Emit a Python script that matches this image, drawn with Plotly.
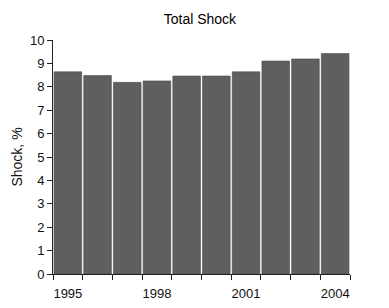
import plotly.graph_objects as go

years = [1995, 1996, 1997, 1998, 1999, 2000, 2001, 2002, 2003, 2004]
shock = [8.64, 8.48, 8.19, 8.25, 8.46, 8.46, 8.64, 9.10, 9.19, 9.42]
label_years = [1995, 1998, 2001, 2004]
y_ticks = list(range(0, 11))

fig = go.Figure(go.Bar(
    x=years, y=shock,
    marker=dict(color="#5f5f61", line=dict(color="#4a4a4c", width=0.6)),
))

fig.update_layout(
    width=389, height=308,
    margin=dict(l=53, r=39, t=40, b=34),
    paper_bgcolor="white", plot_bgcolor="white",
    bargap=0.07,
    showlegend=False,
    font=dict(family="Liberation Sans, Arial, sans-serif", size=12, color="#111"),
    title=dict(text="Total Shock", x=0.514, xanchor="center", y=0.938, yanchor="middle",
               font=dict(size=14, color="#000")),
)
fig.update_xaxes(
    range=[1994.5, 2004.5],
    tickvals=label_years, ticktext=[str(v) for v in label_years],
    ticks="outside", ticklen=0, tickcolor="#222",
    ticklabelstandoff=7,
    minor=dict(ticks="outside", tick0=1994.5, dtick=1, ticklen=5, tickcolor="#222", tickwidth=1, showgrid=False),
    showline=True, linecolor="#222", linewidth=1,
    showgrid=False, zeroline=False,
    tickfont=dict(size=13),
    automargin=False,
)
fig.update_yaxes(
    range=[0, 10],
    tickvals=y_ticks,
    ticks="outside", ticklen=5, tickcolor="#222",
    showline=True, linecolor="#222", linewidth=1,
    showgrid=False, zeroline=False,
    title=dict(text="Shock, %", font=dict(size=14), standoff=4),
    tickfont=dict(size=13),
    automargin=False,
)

fig.write_html("out.html")
